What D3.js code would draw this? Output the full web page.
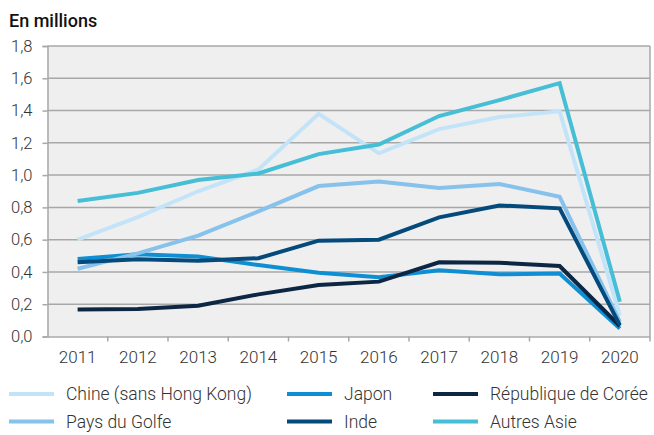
<!DOCTYPE html>
<html>
<head>
    <meta charset="utf-8">
    <script type="text/javascript" src="https://d3js.org/d3.v7.min.js"></script>
    <style>
        body { margin: 0; background: #fff; }
        svg text { font-family: Roboto, "Noto Sans", sans-serif; }
    </style>
</head>
<body>
    <svg width="654" height="435"></svg>

    <script>
        // chart data
        const years = ["2011", "2012", "2013", "2014", "2015", "2016", "2017", "2018", "2019", "2020"];
        const yTicks = [0, 0.2, 0.4, 0.6, 0.8, 1.0, 1.2, 1.4, 1.6, 1.8];

        const chine  = [0.60, 0.74, 0.90, 1.035, 1.38, 1.135, 1.285, 1.36, 1.395, 0.13];
        const japon  = [0.48, 0.51, 0.495, 0.443, 0.395, 0.367, 0.41, 0.385, 0.39, 0.05];
        const coree  = [0.168, 0.17, 0.19, 0.261, 0.319, 0.34, 0.46, 0.457, 0.437, 0.065];
        const golfe  = [0.42, 0.515, 0.625, 0.775, 0.932, 0.96, 0.92, 0.945, 0.866, 0.09];
        const inde   = [0.46, 0.478, 0.47, 0.485, 0.594, 0.60, 0.738, 0.812, 0.794, 0.07];
        const autres = [0.84, 0.89, 0.97, 1.01, 1.13, 1.19, 1.366, 1.465, 1.57, 0.215];

        const seriesNames  = ["Chine (sans Hong Kong)", "Japon", "République de Corée", "Pays du Golfe", "Inde", "Autres Asie"];
        const seriesValues = [chine, japon, coree, golfe, inde, autres];
        const seriesColors = ["#c3e4f8", "#0f8fd3", "#0c2644", "#86c2ec", "#044a7b", "#46bed6"];

        const svg = d3.select("svg");

        const plotL = 47.5, plotR = 650, plotT = 46, plotB = 336.5;

        const x = d3.scaleBand().domain(years).range([plotL, plotR]).padding(0);
        const y = d3.scaleLinear().domain([0, 1.8]).range([plotB, plotT]);

        const frLocale = d3.formatLocale({ decimal: ",", thousands: " ", grouping: [3], currency: ["", " €"] });
        const fmt = frLocale.format(".1f");

        // plot background
        svg.append("rect")
            .attr("x", plotL).attr("y", plotT)
            .attr("width", plotR - plotL).attr("height", plotB - plotT)
            .attr("fill", "#efefef");

        // horizontal grid
        svg.append("g")
            .selectAll("line")
            .data(yTicks.slice(1))
            .enter()
            .append("line")
            .attr("x1", plotL).attr("x2", plotR)
            .attr("y1", d => y(d)).attr("y2", d => y(d))
            .attr("stroke", "#a8a8a8")
            .attr("stroke-width", 1.5);

        // right border
        svg.append("line")
            .attr("x1", plotR).attr("x2", plotR)
            .attr("y1", plotT).attr("y2", plotB)
            .attr("stroke", "#a8a8a8")
            .attr("stroke-width", 1.5);

        // y axis
        const yAxis = svg.append("g")
            .attr("transform", `translate(${plotL},0)`)
            .call(d3.axisLeft(y).tickValues(yTicks).tickFormat(fmt).tickSize(5).tickPadding(10));
        yAxis.selectAll("path, line").attr("stroke", "#a8a8a8").attr("stroke-width", 1.5);
        yAxis.selectAll("text")
            .attr("font-size", 16.5).attr("font-weight", 300).attr("fill", "#333")
            .style("font-family", "Roboto");

        // x axis, labels centred in bands, ticks on the band edges
        const xAxis = svg.append("g")
            .attr("transform", `translate(0,${plotB})`)
            .call(d3.axisBottom(x).tickSize(0).tickPadding(14));
        xAxis.select("path").attr("stroke", "#a8a8a8").attr("stroke-width", 1.5);
        xAxis.selectAll("text")
            .attr("font-size", 17).attr("font-weight", 300).attr("fill", "#333")
            .style("font-family", "Roboto");

        const edges = years.map(d => x(d)).concat([x(years[years.length - 1]) + x.bandwidth()]);
        svg.append("g")
            .selectAll("line")
            .data(edges.slice(1))
            .enter()
            .append("line")
            .attr("x1", d => d).attr("x2", d => d)
            .attr("y1", plotB).attr("y2", plotB + 5)
            .attr("stroke", "#a8a8a8")
            .attr("stroke-width", 1.5);

        // lines
        const line = d3.line()
            .x((d, i) => x(years[i]) + x.bandwidth() / 2)
            .y(d => y(d));

        svg.append("g")
            .selectAll("path")
            .data(seriesValues)
            .enter()
            .append("path")
            .attr("d", line)
            .attr("fill", "none")
            .attr("stroke", (d, i) => seriesColors[i])
            .attr("stroke-width", 4);

        // title
        svg.append("text")
            .attr("x", 9).attr("y", 27)
            .attr("font-size", 18)
            .attr("font-weight", 500)
            .attr("fill", "#111")
            .text("En millions");

        // legend, 3 columns x 2 rows
        const legX = [9, 287, 433];
        const legY = [394, 421.5];
        const legend = svg.append("g")
            .selectAll("g")
            .data(seriesNames)
            .enter()
            .append("g")
            .attr("transform", (d, i) => `translate(${legX[i % 3]},${legY[Math.floor(i / 3)]})`);
        legend.append("line")
            .attr("x1", 0).attr("x2", 45)
            .attr("stroke", (d, i) => seriesColors[i])
            .attr("stroke-width", 4);
        legend.append("text")
            .attr("x", 57).attr("dy", "0.35em")
            .attr("font-size", 17.5).attr("font-weight", 300).attr("fill", "#333")
            .text(d => d);
    </script>
</body>
</html>
